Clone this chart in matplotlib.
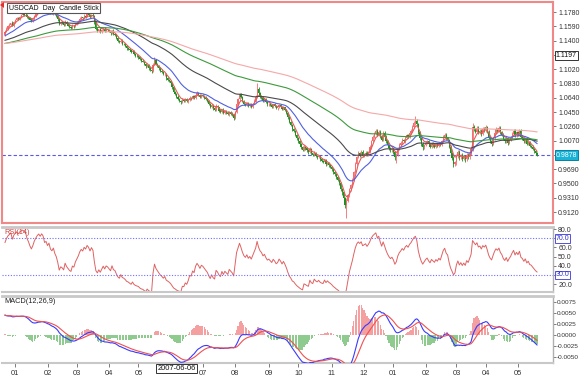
import numpy as np
import pandas as pd
import matplotlib
matplotlib.use("Agg")
import matplotlib.pyplot as plt
from matplotlib.patches import Polygon

# ---------------- data (prices in 1/10000) ----------------
open_first = 11480
closes = [
 11520, 11560, 11590, 11610, 11630, 11600, 11650,                       # Dec 06
 11680, 11700, 11690, 11720, 11735, 11750, 11745, 11740, 11715, 11700, 11680,
 11665, 11690, 11730, 11760, 11790, 11810, 11800, 11830, 11820, 11790, 11800,  # Jan 07
 11780, 11800, 11770, 11760, 11780, 11750, 11730, 11690, 11620, 11640, 11630,
 11610, 11650, 11620, 11600, 11580, 11570, 11600, 11590, 11620,           # Feb
 11640, 11660, 11690, 11710, 11700, 11730, 11720, 11750, 11740, 11720, 11745,
 11730, 11650, 11560, 11530, 11550, 11520, 11540, 11560, 11530, 11550, 11540,  # Mar
 11520, 11500, 11530, 11490, 11480, 11440, 11400, 11380, 11400, 11360, 11350,
 11330, 11300, 11290, 11270, 11250, 11260, 11220, 11200, 11190,           # Apr
 11180, 11150, 11130, 11120, 11090, 11060, 11070, 11030, 11010, 10990, 11080,
 11140, 11090, 11060, 11030, 11000, 10980, 10950, 10960, 10900, 10880, 10860, 10830,  # May
 10780, 10720, 10690, 10650, 10620, 10600, 10580, 10610, 10600, 10620, 10590,
 10610, 10640, 10630, 10660, 10640, 10680, 10700, 10680, 10650, 10670,    # Jun
 10660, 10640, 10620, 10600, 10560, 10520, 10540, 10500, 10480, 10530, 10510,
 10470, 10450, 10480, 10440, 10460, 10440, 10420, 10450, 10430, 10410, 10370,  # Jul
 10450, 10560, 10620, 10690, 10650, 10600, 10560, 10540, 10570, 10530, 10550,
 10520, 10560, 10600, 10650, 10760, 10700, 10660, 10640, 10600, 10620, 10580, 10550,  # Aug
 10560, 10540, 10520, 10550, 10530, 10500, 10510, 10540, 10520, 10490, 10510,
 10480, 10440, 10380, 10320, 10280, 10220, 10200, 10150, 10100,           # Sep
 10060, 10020, 9980, 9950, 9990, 9970, 9940, 9920, 9960, 9900, 9880,
 9910, 9870, 9850, 9860, 9820, 9800, 9790, 9810, 9760, 9770, 9740, 9720,  # Oct
 9690, 9650, 9620, 9580, 9550, 9500, 9430, 9380, 9300, 9220, 9270,
 9340, 9420, 9480, 9550, 9650, 9760, 9850, 9900, 9880, 9920, 9870,        # Nov
 9890, 9910, 9880, 9920, 9980, 10060, 10120, 10160, 10200, 10150,
 10190, 10130, 10080, 10170, 10120, 10060, 10010, 9970, 9940, 9960,       # Dec
 9920, 9850, 9880, 9960, 10010, 10040, 10080, 10060, 10110, 10140, 10120,
 10170, 10200, 10250, 10300, 10330, 10290, 10180, 10100, 10030, 9980, 10010,  # Jan 08
 10040, 10060, 10020, 9990, 10030, 10010, 9990, 10020, 10000, 10030, 10010,
 10060, 10120, 10150, 10100, 10080, 9990, 9900, 9840, 9760, 9780,         # Feb
 9870, 9920, 9850, 9880, 9830, 9860, 9820, 9880, 9850, 9900,
 9960, 10250, 10220, 10190, 10240, 10180, 10200, 10160, 10230, 10210,     # Mar
 10250, 10190, 10110, 10060, 10030, 10100, 10170, 10220, 10200, 10240, 10180,
 10150, 10090, 10060, 10100, 10040, 10080, 10110, 10160, 10200, 10140, 10180,  # Apr
 10150, 10200, 10120, 10100, 10060, 10090, 10030, 10050, 10000, 9990,
 9960, 9930, 9900, 9878,                                                  # May
]
up_wick = [
 15,20,12,18,10,25,15,
 12,18,20,10,15,22,12,18,10,14,20,16,12,15,20,12,18,25,14,10,20,12,
 14,20,12,18,10,15,22,12,16,20,14,10,18,12,20,15,12,18,10,16,
 15,12,20,18,10,25,14,30,12,18,15,20,14,12,18,10,15,20,12,16,14,10,
 18,12,15,20,10,14,18,12,20,15,10,16,12,18,14,10,20,15,12,18,
 15,18,12,20,14,10,25,12,18,15,20,35,14,10,18,12,16,20,14,12,18,15,10,
 12,18,15,10,20,14,12,22,16,10,18,14,20,12,15,18,10,25,14,12,16,
 14,12,18,20,10,15,22,12,16,20,14,10,18,12,20,15,12,18,10,16,14,12,
 20,15,22,18,12,16,14,10,18,12,20,14,16,18,25,70,20,14,12,18,10,16,14,
 12,18,14,10,20,16,12,15,18,10,14,12,16,10,12,14,10,12,16,10,
 14,12,16,20,18,10,14,12,20,16,10,22,12,14,18,10,12,16,20,14,12,10,14,
 12,16,14,10,18,12,14,16,10,18,40,25,20,18,22,20,25,18,30,22,20,25,
 20,18,22,16,25,20,30,22,28,18,24,20,16,30,22,18,20,16,14,18,
 18,14,20,16,22,18,20,16,24,18,22,20,25,28,30,70,24,20,18,22,16,20,
 20,18,22,16,20,18,22,16,20,18,24,20,22,26,20,18,14,16,18,20,24,
 24,20,26,18,22,20,18,24,20,22,30,50,24,20,26,22,18,24,20,22,
 24,20,18,22,16,24,20,26,18,22,20,16,24,20,18,22,20,24,26,20,18,22,
 20,24,18,22,20,16,22,18,20,16,18,14,16,18,
]
dn_wick = [
 20,10,15,12,18,10,14,
 15,10,14,20,12,10,18,12,20,15,12,22,16,10,14,18,12,10,20,15,12,18,
 12,15,20,10,18,14,12,25,18,10,15,20,12,16,10,18,14,12,20,15,
 10,18,12,15,20,12,16,10,18,14,12,20,30,25,15,12,18,14,10,20,12,15,
 12,20,14,10,18,25,15,12,10,18,14,12,20,15,10,18,12,14,20,10,
 20,12,16,10,18,22,12,15,20,25,14,10,18,12,15,20,14,10,18,22,12,16,20,
 25,20,14,18,12,20,22,10,16,14,12,18,10,15,12,20,14,10,18,16,12,
 12,16,10,18,20,14,12,25,18,10,15,20,12,16,10,18,14,12,20,15,18,30,
 12,10,14,20,16,12,18,14,10,20,12,16,14,10,12,15,20,18,12,16,14,10,18,
 14,10,18,12,10,16,20,12,14,18,10,16,20,22,18,16,20,14,18,22,
 20,16,18,14,12,20,18,22,14,20,18,12,16,20,14,18,20,12,16,22,14,18,20,
 18,20,22,25,16,24,28,30,26,40,175,20,18,15,22,16,14,20,12,25,18,20,
 18,22,16,20,14,18,12,20,16,24,18,22,20,14,18,24,20,26,22,16,
 24,40,80,20,16,18,22,14,18,20,16,14,18,20,16,22,30,20,24,26,30,22,
 18,20,16,22,18,20,16,22,18,20,16,18,14,16,20,24,22,26,30,35,28,
 30,26,40,22,35,24,40,20,30,22,18,30,20,24,18,22,20,26,18,20,
 20,24,20,18,26,16,20,18,22,16,24,20,18,22,20,24,18,20,16,22,20,18,
 18,20,22,16,24,18,20,22,16,20,18,22,20,16,
]
start_date = "2006-12-20"
holidays = ["2006-12-25", "2007-01-01", "2007-04-06", "2007-12-25", "2008-01-01", "2008-03-21"]

ma_periods = [5, 20, 60, 120, 200]
ma_seeds = [1.1500, 1.1460, 1.1400, 1.1360, 1.1360]
ma_colors = ["#e85a5a", "#5060e0", "#4a4a4a", "#3c9a3c", "#f5a8a8"]

macd_fast_seed, macd_slow_seed, macd_signal_seed = 1.1500, 1.1385, 0.0105
macd_panel_factor = 0.42
rsi_gain_seed, rsi_loss_seed = 0.0012, 0.0008

main_ticks = [0.9120, 0.9310, 0.9500, 0.9690, 0.9880, 1.0070, 1.0260, 1.0450,
              1.0640, 1.0830, 1.1020, 1.1210, 1.1400, 1.1590, 1.1780]
rsi_ticks = [20, 30, 40, 50, 60, 70, 80]
macd_ticks = [-0.0050, -0.0025, 0.0, 0.0025, 0.0050, 0.0075]
cross_date, cross_price = "2007-06-06", 1.1197
title_text = "USDCAD  Day  Candle Stick"

# ---------------- derived ----------------
c = np.array(closes) / 1e4
o = np.r_[open_first / 1e4, c[:-1]]
hi = np.maximum(o, c) + np.array(up_wick) / 1e4
lo = np.minimum(o, c) - np.array(dn_wick) / 1e4
n = len(c)
x = np.arange(n)

bd = pd.bdate_range(start_date, periods=n + 20)
bd = bd[~bd.isin(pd.to_datetime(holidays))][:n]

def ema(arr, p, seed):
    a = 2.0 / (p + 1)
    out = np.empty(len(arr))
    prev = seed
    for k, v in enumerate(arr):
        prev = prev + a * (v - prev)
        out[k] = prev
    return out

mas = [ema(c, p, s) for p, s in zip(ma_periods, ma_seeds)]
dif_raw = ema(c, 12, macd_fast_seed) - ema(c, 26, macd_slow_seed)
dea_raw = ema(dif_raw, 9, macd_signal_seed)
dif = dif_raw * macd_panel_factor
dea = dea_raw * macd_panel_factor
hist = 2 * (dif - dea)

d = np.diff(np.r_[o[0], c])
g = np.clip(d, 0, None)
ls = np.clip(-d, 0, None)
ag, al = rsi_gain_seed, rsi_loss_seed
rsi = np.empty(n)
for k in range(n):
    ag = (ag * 13 + g[k]) / 14
    al = (al * 13 + ls[k]) / 14
    rsi[k] = 100 - 100 / (1 + ag / al)

# ---------------- style ----------------
plt.rcParams["font.family"] = ["Liberation Sans", "DejaVu Sans"]
FS = 5.0
TXT = "#333333"

W, H = 580, 379
fig = plt.figure(figsize=(W / 100, H / 100), dpi=100, facecolor="white")

def fr(x0, y0, x1, y1):
    return [x0 / W, 1 - y1 / H, (x1 - x0) / W, (y1 - y0) / H]

ax = fig.add_axes(fr(2, 2, 553, 223))
ax_r = fig.add_axes(fr(2, 227, 553, 292))
ax_m = fig.add_axes(fr(2, 296, 553, 363))
XL = (-2.05, 373.9)
for a in (ax, ax_r, ax_m):
    a.set_xlim(*XL)
    a.set_facecolor("white")
    a.yaxis.tick_right()
    a.tick_params(axis="y", direction="out", length=2.5, width=0.6, colors="#666666",
                  labelsize=FS, pad=1.2, labelcolor=TXT)
ax_m.tick_params(axis="y", length=2, pad=0.8, labelsize=4.6)

# ---- main candles ----
up = c >= o
col = np.where(up, "#f26d6d", "#1f8f1f")
ax.vlines(x, lo, hi, colors=col, linewidth=0.6, zorder=3)
body_h = np.maximum(np.abs(c - o), 0.0004)
ax.bar(x, body_h, bottom=np.minimum(o, c), width=0.8, color=col, linewidth=0, zorder=4)
for m, cl in zip(mas, ma_colors):
    ax.plot(x, m, color=cl, linewidth=0.8, zorder=5)
ax.axhline(c[-1], color="#5a5ae6", linewidth=0.8, linestyle=(0, (3, 2)), zorder=2)
ax.set_ylim(0.8974, 1.1913)
ax.set_yticks(main_ticks)
ax.set_yticklabels(["" if abs(t - cross_price) < 0.004 or abs(t - c[-1]) < 0.004 else f"{t:.4f}"
                    for t in main_ticks])
ax.set_xticks([])
for s in ax.spines.values():
    s.set_color("#f08888")
    s.set_linewidth(1.5)
ax.text(0.012, 0.987, title_text, transform=ax.transAxes, ha="left", va="top",
        fontsize=5.0, color="#111111", zorder=10,
        bbox=dict(boxstyle="square,pad=0.2", fc="white", ec="#555555", lw=0.8))
ax.text(1.005, cross_price, f"{cross_price:.4f}", transform=ax.get_yaxis_transform(),
        ha="left", va="center", fontsize=FS, color="#111111", zorder=10, clip_on=False,
        bbox=dict(boxstyle="square,pad=0.15", fc="white", ec="#333333", lw=0.7))
ax.text(1.005, c[-1], f"{c[-1]:.4f}", transform=ax.get_yaxis_transform(),
        ha="left", va="center", fontsize=FS, color="white", zorder=10, clip_on=False,
        bbox=dict(boxstyle="square,pad=0.15", fc="#18b4d8", ec="#0b7ea0", lw=0.7))

# ---- RSI ----
ax_r.plot(x, rsi, color="#e06262", linewidth=0.7)
for lvl in (70, 30):
    ax_r.axhline(lvl, color="#7070ff", linewidth=0.8, linestyle=(0, (1, 1.5)))
ax_r.set_ylim(11.3, 82.2)
ax_r.set_yticks(rsi_ticks)
ax_r.set_yticklabels(["" if t in (70, 30) else f"{t:.1f}" for t in rsi_ticks])
for lvl in (70, 30):
    ax_r.text(1.005, lvl, f"{lvl:.1f}", transform=ax_r.get_yaxis_transform(), ha="left",
              va="center", fontsize=FS, color="#3030d0", clip_on=False, zorder=10,
              bbox=dict(boxstyle="square,pad=0.12", fc="white", ec="#5050e0", lw=0.7))
ax_r.set_xticks([])
ax_r.text(0.004, 0.97, "RSI(14)", transform=ax_r.transAxes, ha="left", va="top",
          fontsize=FS + 0.3, color="#d04040")

# ---- MACD ----
hc = np.where(hist >= 0, "#f4a0a0", "#8fcb8f")
ax_m.bar(x, hist, width=0.8, color=hc, linewidth=0, zorder=2)
ax_m.plot(x, dif, color="#3a3aff", linewidth=0.8, zorder=3)
ax_m.plot(x, dea, color="#f05050", linewidth=0.8, zorder=3)
ax_m.set_ylim(-0.00636, 0.00886)
ax_m.set_yticks(macd_ticks)
ax_m.set_yticklabels([f"{t:.4f}" for t in macd_ticks])
ax_m.text(0.004, 0.97, "MACD(12,26,9)", transform=ax_m.transAxes, ha="left", va="top",
          fontsize=FS + 0.3, color="#222222")

# ---- month ticks ----
months = pd.Series(bd.to_period("M"))
first_idx = [int(i) for i in months.drop_duplicates().index][1:]
cross_i = int(np.searchsorted(bd, pd.Timestamp(cross_date)))
ax_m.set_xticks(first_idx)
ax_m.set_xticklabels(["" if abs(i - cross_i) < 12 else f"{bd[i].month:02d}" for i in first_idx])
ax_m.tick_params(axis="x", direction="out", length=3, width=0.6, colors="#666666",
                 labelsize=FS + 0.4, pad=2, labelcolor=TXT)
ax_m.text(cross_i, -0.03, cross_date, transform=ax_m.get_xaxis_transform(), ha="center",
          va="top", fontsize=FS + 0.4, color="#111111", clip_on=False, zorder=10,
          bbox=dict(boxstyle="square,pad=0.15", fc="white", ec="#333333", lw=0.7))

for a in (ax_r, ax_m):
    a.spines["left"].set_visible(False)
    a.spines["top"].set_color("#c8c8c8"); a.spines["top"].set_linewidth(2)
    a.spines["bottom"].set_color("#c8c8c8"); a.spines["bottom"].set_linewidth(1.5)
    a.spines["right"].set_color("#b0b0b0"); a.spines["right"].set_linewidth(1)

# small red marker top-left
fig.add_artist(Polygon([[0 / W, 1 - 5 / H], [4 / W, 1 - 2 / H], [4 / W, 1 - 8 / H]],
                       closed=True, transform=fig.transFigure, fc="#e03030", ec="none"))

fig.savefig("out.png", dpi=100, facecolor="white")
